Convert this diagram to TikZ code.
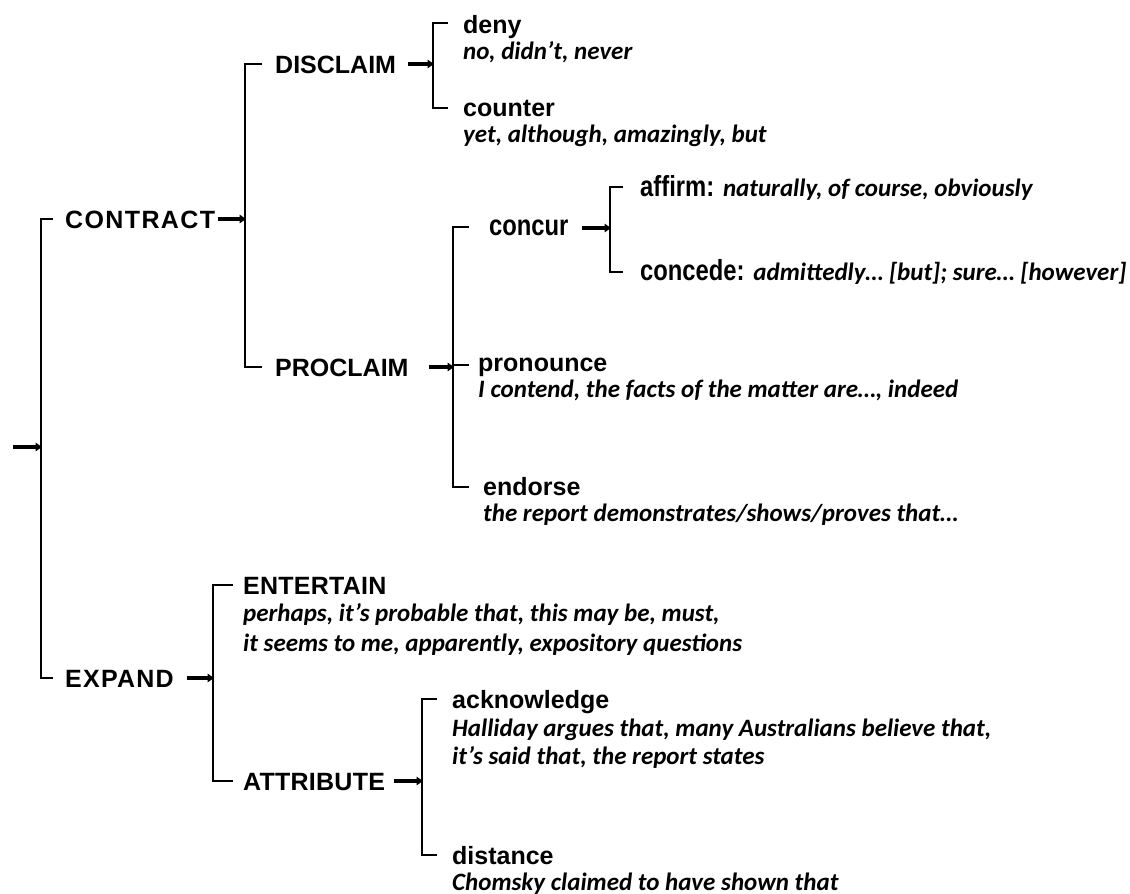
\documentclass[tikz,border=0pt]{standalone}
\usepackage{fontspec}
\setmainfont{Liberation Sans}
\newfontfamily\exf{Carlito}
\newfontfamily\narf{Liberation Sans}[FakeStretch=0.82]
\usetikzlibrary{arrows.meta}
\newcommand{\exstyle}{\exf\fontsize{25}{29}\selectfont\bfseries\itshape}
\begin{document}
\begin{tikzpicture}[x=1pt,y=-1pt,
  lab/.style={inner sep=0pt, anchor=base west, font=\fontsize{25}{29}\selectfont\bfseries},
  nar/.style={inner sep=0pt, anchor=base west, font=\narf\fontsize{29}{32}\selectfont\bfseries},
  sub/.style={inner sep=0pt, anchor=base west, font=\exstyle},
  brk/.style={line width=2.4pt},
  arr/.style={line width=3.4pt, -{Triangle[length=6.5pt,width=8.5pt]}, shorten >=-1pt}
]
\useasboundingbox (0,0) rectangle (1130,894);
% ---------- labels ----------
\node[lab] (con) at (65,228) {\addfontfeatures{LetterSpace=5.5}CONTRACT};
\node[lab] (exp) at (65,687) {\addfontfeatures{LetterSpace=5}EXPAND};
\node[lab] (dis) at (275,73) {DISCLAIM};
\node[lab] (pro) at (275,376) {PROCLAIM};
\node[lab] (deny) at (463,33) {deny};
\node[sub] (denyx) at (463,59) {no, didn’t, never};
\node[lab] (cou) at (463,116) {counter};
\node[sub] (coux) at (463,142) {yet, although, amazingly, but};
\node[nar] (ccr) at (489,235) {concur};
\node[nar] (aff) at (640,196) {affirm: {\exstyle naturally, of course, obviously}};
\node[nar] (cde) at (640,280) {concede: {\exstyle admittedly… [but]; sure… [however]}};
\node[lab] (pron) at (478,371) {pronounce};
\node[sub] (pronx) at (478,397) {I contend, the facts of the matter are…, indeed};
\node[lab] (end) at (483,495) {endorse};
\node[sub] (endx) at (483,521) {the report demonstrates/shows/proves that…};
\node[lab] (ent) at (243,594) {\addfontfeatures{LetterSpace=1}ENTERTAIN};
\node[sub] (entx1) at (243,621) {perhaps, it’s probable that, this may be, must,};
\node[sub] (entx2) at (243,651) {it seems to me, apparently, expository questions};
\node[lab] (att) at (243,790) {\addfontfeatures{LetterSpace=1}ATTRIBUTE};
\node[lab] (ack) at (452,708) {acknowledge};
\node[sub] (ackx1) at (452,736) {Halliday argues that, many Australians believe that,};
\node[sub] (ackx2) at (452,764) {it’s said that, the report states};
\node[lab] (dst) at (452,864) {distance};
\node[sub] (dstx) at (452,890) {Chomsky claimed to have shown that};
% ---------- bracket spines ----------
\coordinate (bRoot) at (41,447);
\coordinate (bCon) at (245,219);
\coordinate (bDis) at (433,64);
\coordinate (bPro) at (453,366);
\coordinate (bCcr) at (610,227);
\coordinate (bExp) at (213,680);
\coordinate (bAtt) at (422,781);
\coordinate (r0) at (13,447);
% ---------- tick ends ----------
\coordinate (tCon) at ([xshift=-12pt,yshift=9pt]con.base west);
\coordinate (tExp) at ([xshift=-12pt,yshift=9pt]exp.base west);
\coordinate (tDis) at ([xshift=-13pt,yshift=9pt]dis.base west);
\coordinate (tPro) at ([xshift=-13pt,yshift=9pt]pro.base west);
\coordinate (tDeny) at ([xshift=-15pt,yshift=10pt]deny.base west);
\coordinate (tCou) at ([xshift=-15pt,yshift=8pt]cou.base west);
\coordinate (tCcr) at ([xshift=-20pt,yshift=8pt]ccr.base west);
\coordinate (tPron) at ([xshift=-9pt,yshift=6pt]pron.base west);
\coordinate (tEnd) at ([xshift=-14pt,yshift=8pt]end.base west);
\coordinate (tAff) at ([xshift=-17pt,yshift=9pt]aff.base west);
\coordinate (tCde) at ([xshift=-17pt,yshift=8pt]cde.base west);
\coordinate (tEnt) at ([xshift=-10pt,yshift=9pt]ent.base west);
\coordinate (tAtt) at ([xshift=-10pt,yshift=9pt]att.base west);
\coordinate (tAck) at ([xshift=-15pt,yshift=9pt]ack.base west);
\coordinate (tDst) at ([xshift=-15pt,yshift=9pt]dst.base west);
% ---------- brackets ----------
\draw[brk] (tCon) -| (bRoot) |- (tExp);
\draw[brk] (tDis) -| (bCon) |- (tPro);
\draw[brk] (tDeny) -| (bDis) |- (tCou);
\draw[brk] (tCcr) -| (bPro) |- (tEnd);
\draw[brk] (bPro |- tPron) -- (tPron);
\draw[brk] (tAff) -| (bCcr) |- (tCde);
\draw[brk] (tEnt) -| (bExp) |- (tAtt);
\draw[brk] (tAck) -| (bAtt) |- (tDst);
% ---------- arrows ----------
\coordinate (aCon) at ([xshift=3pt,yshift=9pt]con.base east);
\coordinate (aDis) at ([xshift=12pt,yshift=9pt]dis.base east);
\coordinate (aPro) at ([xshift=20pt,yshift=9pt]pro.base east);
\coordinate (aCcr) at ([xshift=13pt,yshift=7pt]ccr.base east);
\coordinate (aExp) at ([xshift=13pt,yshift=9pt]exp.base east);
\coordinate (aAtt) at ([xshift=9pt,yshift=9pt]att.base east);
\draw[arr] (r0) -- (bRoot);
\draw[arr] (aCon) -- (bCon |- aCon);
\draw[arr] (aDis) -- (bDis |- aDis);
\draw[arr] (aPro) -- (bPro |- aPro);
\draw[arr] (aCcr) -- (bCcr |- aCcr);
\draw[arr] (aExp) -- (bExp |- aExp);
\draw[arr] (aAtt) -- (bAtt |- aAtt);
\end{tikzpicture}
\end{document}
